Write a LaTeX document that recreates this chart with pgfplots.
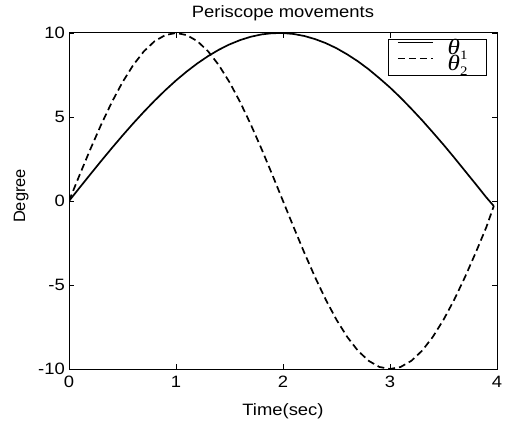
\documentclass[border=0pt]{standalone}
\usepackage{fontspec}
\setmainfont{Liberation Sans}[FakeStretch=1.12]
\newfontfamily\tnr{Liberation Serif}[FakeStretch=1.15]
\usepackage{pgfplots}
\pgfplotsset{compat=1.18}

% Periscope joint angles (degrees) sampled every 0.1 s
\pgfplotstableread{
t     th1     th2
0.00  0.000   0.000
0.10  0.799   1.564
0.20  1.593   3.090
0.30  2.377   4.540
0.40  3.146   5.878
0.50  3.894   7.071
0.60  4.618   8.090
0.70  5.312   8.910
0.80  5.972   9.511
0.90  6.594   9.877
1.00  7.174   10.000
1.10  7.707   9.877
1.20  8.192   9.511
1.30  8.624   8.910
1.40  9.001   8.090
1.50  9.320   7.071
1.60  9.580   5.878
1.70  9.779   4.540
1.80  9.915   3.090
1.90  9.988   1.564
2.00  9.996   0.000
2.10  9.940  -1.564
2.20  9.821  -3.090
2.30  9.636  -4.540
2.40  9.396  -5.878
2.50  9.093  -7.071
2.60  8.728  -8.090
2.70  8.314  -8.910
2.80  7.843  -9.511
2.90  7.311  -9.877
3.00  6.755  -10.000
3.10  6.145  -9.877
3.20  5.487  -9.511
3.30  4.806  -8.910
3.40  4.085  -8.090
3.50  3.350  -7.071
3.60  2.585  -5.878
3.70  1.798  -4.540
3.80  1.014  -3.090
3.90  0.216  -1.564
3.97 -0.300  -0.300
}\periscope

% legend label: italic theta with a lowered index
\newcommand{\legtheta}[1]{\hspace*{14bp}\fontsize{22}{22}\selectfont\tnr\itshape θ\upshape\raisebox{-5bp}{\fontsize{13}{13}\selectfont #1}\hspace*{19bp}}

\begin{document}
\begin{tikzpicture}
\path[use as bounding box] (0,0) rectangle (507bp,421bp);
\begin{axis}[
  at={(69bp,52bp)}, anchor=south west,
  scale only axis, width=428bp, height=336bp,
  xmin=0, xmax=4, ymin=-10, ymax=10,
  xtick={0,1,2,3,4}, ytick={-10,-5,0,5,10},
  xticklabels={0,1,2,3,4}, yticklabels={-10,-5,0,5,10},
  tick align=inside, major tick length=5bp,
  axis line style={line width=1pt},
  every tick/.style={black, line width=0.8pt},
  tick label style={font=\fontsize{16.5}{18}\selectfont},
  xticklabel style={anchor=north, inner sep=0pt, yshift=-7bp},
  yticklabel style={anchor=east, inner sep=0pt, xshift=-4bp},
  title={Periscope movements},
  title style={at={(0.5,1)}, anchor=base, yshift=10bp, inner sep=0pt,
    font=\fontsize{16.5}{18}\selectfont},
  xlabel={Time(sec)},
  xlabel style={at={(0.5,0)}, anchor=base, yshift=-46bp, inner sep=0pt,
    font=\fontsize{16.5}{18}\selectfont},
  ylabel={Degree},
  ylabel style={at={(axis description cs:-0.1028,0.515)}, anchor=base,
    inner sep=0pt, font=\fontspec{Liberation Sans}\fontsize{16.5}{18}\selectfont},
  legend style={at={(1,1)}, anchor=north east, xshift=-10bp, yshift=-6bp,
    draw=black, line width=1pt, inner xsep=0pt, inner ysep=2bp,
    nodes={inner sep=0pt, text height=13bp, text depth=3bp}},
  legend cell align=left,
  legend image code/.code={\path (0bp,0bp);\draw[#1, line width=1.7pt] (8bp,7bp) -- (43bp,7bp);},
]
\addplot[black, line width=1.7pt] table[x=t, y=th1] {\periscope};
\addlegendentry{\legtheta{1}}
\addplot[black, line width=1.7pt, dash pattern=on 7bp off 4bp] table[x=t, y=th2] {\periscope};
\addlegendentry{\legtheta{2}}
\end{axis}
\end{tikzpicture}
\end{document}
